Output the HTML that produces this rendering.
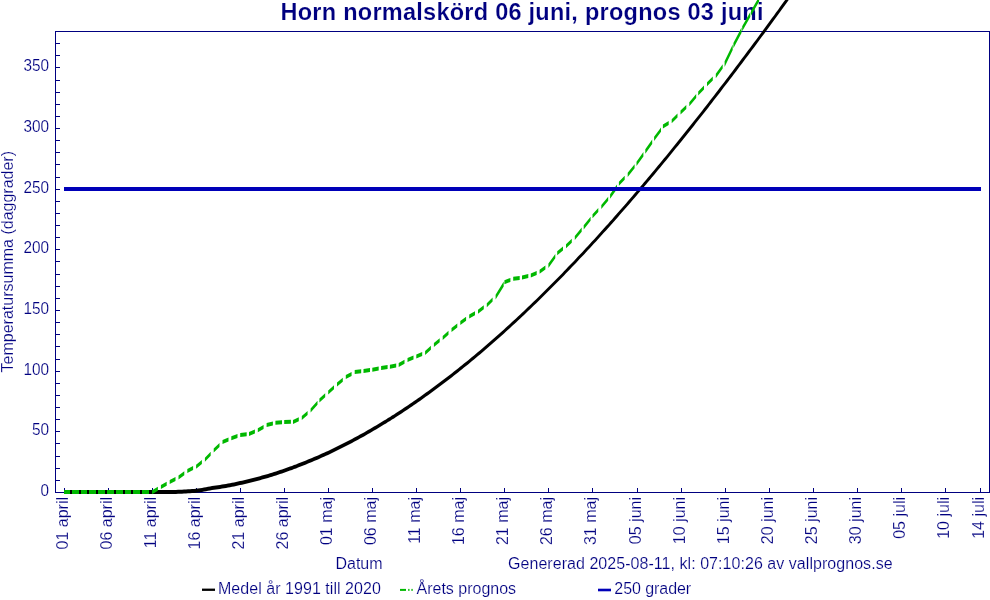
<!DOCTYPE html>
<html lang="sv"><head><meta charset="utf-8"><title>Horn normalskörd 06 juni, prognos 03 juni</title>
<style>html,body{margin:0;padding:0;background:#fff;}svg{display:block;}text{font-family:"Liberation Sans", Arial, sans-serif;fill:#000080;stroke:#fff;stroke-width:0.18px;}</style>
</head><body>
<svg width="990" height="600" viewBox="0 0 990 600">
<rect x="0" y="0" width="990" height="600" fill="#ffffff"/>
<text id="title" x="280.5" y="20" textLength="483" lengthAdjust="spacing" font-size="23.5" font-weight="bold" stroke="none">Horn normalskörd 06 juni, prognos 03 juni</text>
<g fill="#000080" shape-rendering="crispEdges">
<rect x="55" y="31" width="935" height="1"/>
<rect x="55" y="492" width="935" height="1"/>
<rect x="55" y="31" width="1" height="462"/>
<rect x="989" y="31" width="1" height="462"/>
<rect x="56" y="492" width="4" height="1"/>
<rect x="56" y="480" width="4" height="1"/>
<rect x="56" y="468" width="4" height="1"/>
<rect x="56" y="456" width="4" height="1"/>
<rect x="56" y="443" width="4" height="1"/>
<rect x="56" y="431" width="4" height="1"/>
<rect x="56" y="419" width="4" height="1"/>
<rect x="56" y="407" width="4" height="1"/>
<rect x="56" y="395" width="4" height="1"/>
<rect x="56" y="383" width="4" height="1"/>
<rect x="56" y="371" width="4" height="1"/>
<rect x="56" y="359" width="4" height="1"/>
<rect x="56" y="346" width="4" height="1"/>
<rect x="56" y="334" width="4" height="1"/>
<rect x="56" y="322" width="4" height="1"/>
<rect x="56" y="310" width="4" height="1"/>
<rect x="56" y="298" width="4" height="1"/>
<rect x="56" y="286" width="4" height="1"/>
<rect x="56" y="274" width="4" height="1"/>
<rect x="56" y="261" width="4" height="1"/>
<rect x="56" y="249" width="4" height="1"/>
<rect x="56" y="237" width="4" height="1"/>
<rect x="56" y="225" width="4" height="1"/>
<rect x="56" y="213" width="4" height="1"/>
<rect x="56" y="201" width="4" height="1"/>
<rect x="56" y="189" width="4" height="1"/>
<rect x="56" y="177" width="4" height="1"/>
<rect x="56" y="164" width="4" height="1"/>
<rect x="56" y="152" width="4" height="1"/>
<rect x="56" y="140" width="4" height="1"/>
<rect x="56" y="128" width="4" height="1"/>
<rect x="56" y="116" width="4" height="1"/>
<rect x="56" y="104" width="4" height="1"/>
<rect x="56" y="92" width="4" height="1"/>
<rect x="56" y="80" width="4" height="1"/>
<rect x="56" y="67" width="4" height="1"/>
<rect x="56" y="55" width="4" height="1"/>
<rect x="56" y="43" width="4" height="1"/>
<rect x="64" y="488" width="1" height="4"/>
<rect x="108" y="488" width="1" height="4"/>
<rect x="152" y="488" width="1" height="4"/>
<rect x="196" y="488" width="1" height="4"/>
<rect x="240" y="488" width="1" height="4"/>
<rect x="284" y="488" width="1" height="4"/>
<rect x="328" y="488" width="1" height="4"/>
<rect x="372" y="488" width="1" height="4"/>
<rect x="416" y="488" width="1" height="4"/>
<rect x="460" y="488" width="1" height="4"/>
<rect x="504" y="488" width="1" height="4"/>
<rect x="548" y="488" width="1" height="4"/>
<rect x="592" y="488" width="1" height="4"/>
<rect x="637" y="488" width="1" height="4"/>
<rect x="681" y="488" width="1" height="4"/>
<rect x="725" y="488" width="1" height="4"/>
<rect x="769" y="488" width="1" height="4"/>
<rect x="813" y="488" width="1" height="4"/>
<rect x="857" y="488" width="1" height="4"/>
<rect x="901" y="488" width="1" height="4"/>
<rect x="945" y="488" width="1" height="4"/>
<rect x="980" y="488" width="1" height="4"/>
</g>
<g font-size="16" text-anchor="end">
<text x="49" y="496.1" textLength="8.5" lengthAdjust="spacingAndGlyphs">0</text>
<text x="49" y="435.1" textLength="17.1" lengthAdjust="spacingAndGlyphs">50</text>
<text x="49" y="375.1" textLength="25.6" lengthAdjust="spacingAndGlyphs">100</text>
<text x="49" y="314.1" textLength="25.6" lengthAdjust="spacingAndGlyphs">150</text>
<text x="49" y="253.1" textLength="25.6" lengthAdjust="spacingAndGlyphs">200</text>
<text x="49" y="193.1" textLength="25.6" lengthAdjust="spacingAndGlyphs">250</text>
<text x="49" y="132.1" textLength="25.6" lengthAdjust="spacingAndGlyphs">300</text>
<text x="49" y="71.1" textLength="25.6" lengthAdjust="spacingAndGlyphs">350</text>
</g>
<g font-size="16" text-anchor="end">
<text transform="translate(68.0,497) rotate(-90)">01 april</text>
<text transform="translate(112.0,497) rotate(-90)">06 april</text>
<text transform="translate(156.0,497) rotate(-90)">11 april</text>
<text transform="translate(200.0,497) rotate(-90)">16 april</text>
<text transform="translate(244.0,497) rotate(-90)">21 april</text>
<text transform="translate(288.0,497) rotate(-90)">26 april</text>
<text transform="translate(332.0,497) rotate(-90)">01 maj</text>
<text transform="translate(376.0,497) rotate(-90)">06 maj</text>
<text transform="translate(420.0,497) rotate(-90)">11 maj</text>
<text transform="translate(464.0,497) rotate(-90)">16 maj</text>
<text transform="translate(508.0,497) rotate(-90)">21 maj</text>
<text transform="translate(552.0,497) rotate(-90)">26 maj</text>
<text transform="translate(596.0,497) rotate(-90)">31 maj</text>
<text transform="translate(641.0,497) rotate(-90)">05 juni</text>
<text transform="translate(685.0,497) rotate(-90)">10 juni</text>
<text transform="translate(729.0,497) rotate(-90)">15 juni</text>
<text transform="translate(773.0,497) rotate(-90)">20 juni</text>
<text transform="translate(817.0,497) rotate(-90)">25 juni</text>
<text transform="translate(861.0,497) rotate(-90)">30 juni</text>
<text transform="translate(905.0,497) rotate(-90)">05 juli</text>
<text transform="translate(949.0,497) rotate(-90)">10 juli</text>
<text transform="translate(984.0,497) rotate(-90)">14 juli</text>
</g>
<text id="ytitle" transform="translate(12.5,261.7) rotate(-90)" text-anchor="middle" font-size="16">Temperatursumma (daggrader)</text>
<polygon fill="#000000" points="64.0,490.0 170.0,490.0 172.0,490.0 174.0,489.9 176.0,489.9 178.0,489.8 180.0,489.7 182.0,489.7 184.0,489.6 186.0,489.5 188.0,489.3 190.0,489.2 192.0,489.0 194.0,488.9 196.0,488.7 198.0,488.4 200.0,488.2 202.0,487.9 204.0,487.6 206.0,487.2 208.0,486.8 210.0,486.4 212.0,486.1 214.0,485.8 216.0,485.6 218.0,485.3 220.0,484.9 222.0,484.6 224.0,484.3 226.0,483.9 228.0,483.6 230.0,483.2 232.0,482.8 234.0,482.4 236.0,482.0 238.0,481.6 240.0,481.1 242.0,480.7 244.0,480.2 246.0,479.8 248.0,479.3 250.0,478.8 252.0,478.3 254.0,477.8 256.0,477.3 258.0,476.7 260.0,476.2 262.0,475.6 264.0,475.1 266.0,474.5 268.0,473.9 270.0,473.3 272.0,472.7 274.0,472.0 276.0,471.4 278.0,470.7 280.0,470.1 282.0,469.4 284.0,468.7 286.0,468.0 288.0,467.3 290.0,466.6 292.0,465.9 294.0,465.1 296.0,464.4 298.0,463.6 300.0,462.8 302.0,462.1 304.0,461.3 306.0,460.5 308.0,459.6 310.0,458.8 312.0,458.0 314.0,457.1 316.0,456.3 318.0,455.4 320.0,454.5 322.0,453.6 324.0,452.7 326.0,451.8 328.0,450.9 330.0,449.9 332.0,449.0 334.0,448.0 336.0,447.0 338.0,446.1 340.0,445.1 342.0,444.1 344.0,443.1 346.0,442.0 348.0,441.0 350.0,440.0 352.0,438.9 354.0,437.8 356.0,436.8 358.0,435.7 360.0,434.6 362.0,433.5 364.0,432.4 366.0,431.2 368.0,430.1 370.0,428.9 372.0,427.8 374.0,426.6 376.0,425.4 378.0,424.2 380.0,423.0 382.0,421.8 384.0,420.6 386.0,419.4 388.0,418.1 390.0,416.9 392.0,415.6 394.0,414.4 396.0,413.1 398.0,411.8 400.0,410.5 402.0,409.2 404.0,407.8 406.0,406.5 408.0,405.2 410.0,403.8 412.0,402.5 414.0,401.1 416.0,399.7 418.0,398.3 420.0,396.9 422.0,395.5 424.0,394.1 426.0,392.6 428.0,391.2 430.0,389.7 432.0,388.3 434.0,386.8 436.0,385.3 438.0,383.8 440.0,382.3 442.0,380.8 444.0,379.3 446.0,377.8 448.0,376.3 450.0,374.7 452.0,373.2 454.0,371.6 456.0,370.0 458.0,368.4 460.0,366.8 462.0,365.2 464.0,363.6 466.0,362.0 468.0,360.4 470.0,358.7 472.0,357.1 474.0,355.4 476.0,353.7 478.0,352.0 480.0,350.4 482.0,348.7 484.0,347.0 486.0,345.2 488.0,343.5 490.0,341.8 492.0,340.0 494.0,338.3 496.0,336.5 498.0,334.7 500.0,333.0 502.0,331.2 504.0,329.4 506.0,327.6 508.0,325.8 510.0,323.9 512.0,322.1 514.0,320.3 516.0,318.4 518.0,316.5 520.0,314.7 522.0,312.8 524.0,310.9 526.0,309.0 528.0,307.1 530.0,305.2 532.0,303.3 534.0,301.3 536.0,299.4 538.0,297.5 540.0,295.5 542.0,293.5 544.0,291.6 546.0,289.6 548.0,287.6 550.0,285.6 552.0,283.6 554.0,281.5 556.0,279.5 558.0,277.5 560.0,275.4 562.0,273.4 564.0,271.3 566.0,269.2 568.0,267.1 570.0,265.1 572.0,263.0 574.0,260.9 576.0,258.7 578.0,256.6 580.0,254.5 582.0,252.4 584.0,250.2 586.0,248.1 588.0,245.9 590.0,243.7 592.0,241.6 594.0,239.4 596.0,237.2 598.0,235.0 600.0,232.8 602.0,230.6 604.0,228.3 606.0,226.1 608.0,223.9 610.0,221.6 612.0,219.4 614.0,217.1 616.0,214.8 618.0,212.6 620.0,210.3 622.0,208.0 624.0,205.7 626.0,203.4 628.0,201.1 630.0,198.8 632.0,196.4 634.0,194.1 636.0,191.8 638.0,189.4 640.0,187.1 642.0,184.7 644.0,182.3 646.0,180.0 648.0,177.6 650.0,175.2 652.0,172.8 654.0,170.4 656.0,168.0 658.0,165.6 660.0,163.2 662.0,160.7 664.0,158.3 666.0,155.9 668.0,153.4 670.0,151.0 672.0,148.5 674.0,146.0 676.0,143.6 678.0,141.1 680.0,138.6 682.0,136.1 684.0,133.6 686.0,131.1 688.0,128.6 690.0,126.1 692.0,123.6 694.0,121.0 696.0,118.5 698.0,116.0 700.0,113.4 702.0,110.9 704.0,108.3 706.0,105.7 708.0,103.2 710.0,100.6 712.0,98.0 714.0,95.4 716.0,92.8 718.0,90.2 720.0,87.6 722.0,85.0 724.0,82.4 726.0,79.8 728.0,77.2 730.0,74.5 732.0,71.9 734.0,69.3 736.0,66.6 738.0,64.0 740.0,61.3 742.0,58.6 744.0,56.0 746.0,53.3 748.0,50.6 750.0,47.9 752.0,45.2 754.0,42.6 756.0,39.9 758.0,37.2 760.0,34.4 762.0,31.7 764.0,29.0 766.0,26.3 768.0,23.6 770.0,20.8 772.0,18.1 774.0,15.4 776.0,12.6 778.0,9.9 780.0,7.1 782.0,4.3 784.0,1.6 786.0,-1.2 788.0,-4.0 790.0,-6.7 792.0,-9.5 794.0,-12.3 794.0,-7.4 792.0,-4.6 790.0,-1.8 788.0,1.0 786.0,3.7 784.0,6.5 782.0,9.3 780.0,12.0 778.0,14.8 776.0,17.5 774.0,20.2 772.0,23.0 770.0,25.7 768.0,28.4 766.0,31.2 764.0,33.9 762.0,36.6 760.0,39.3 758.0,42.0 756.0,44.7 754.0,47.4 752.0,50.1 750.0,52.8 748.0,55.4 746.0,58.1 744.0,60.8 742.0,63.4 740.0,66.1 738.0,68.7 736.0,71.4 734.0,74.0 732.0,76.7 730.0,79.3 728.0,81.9 726.0,84.5 724.0,87.1 722.0,89.8 720.0,92.4 718.0,95.0 716.0,97.5 714.0,100.1 712.0,102.7 710.0,105.3 708.0,107.9 706.0,110.4 704.0,113.0 702.0,115.5 700.0,118.1 698.0,120.6 696.0,123.1 694.0,125.7 692.0,128.2 690.0,130.7 688.0,133.2 686.0,135.7 684.0,138.2 682.0,140.7 680.0,143.2 678.0,145.7 676.0,148.1 674.0,150.6 672.0,153.1 670.0,155.5 668.0,158.0 666.0,160.4 664.0,162.8 662.0,165.3 660.0,167.7 658.0,170.1 656.0,172.5 654.0,174.9 652.0,177.3 650.0,179.7 648.0,182.0 646.0,184.4 644.0,186.8 642.0,189.1 640.0,191.5 638.0,193.8 636.0,196.2 634.0,198.5 632.0,200.8 630.0,203.2 628.0,205.5 626.0,207.8 624.0,210.1 622.0,212.3 620.0,214.6 618.0,216.9 616.0,219.2 614.0,221.4 612.0,223.7 610.0,225.9 608.0,228.2 606.0,230.4 604.0,232.6 602.0,234.8 600.0,237.0 598.0,239.2 596.0,241.4 594.0,243.6 592.0,245.8 590.0,247.9 588.0,250.1 586.0,252.2 584.0,254.4 582.0,256.5 580.0,258.6 578.0,260.8 576.0,262.9 574.0,265.0 572.0,267.1 570.0,269.2 568.0,271.2 566.0,273.3 564.0,275.4 562.0,277.4 560.0,279.5 558.0,281.5 556.0,283.5 554.0,285.6 552.0,287.6 550.0,289.6 548.0,291.6 546.0,293.6 544.0,295.6 542.0,297.5 540.0,299.5 538.0,301.5 536.0,303.4 534.0,305.3 532.0,307.3 530.0,309.2 528.0,311.1 526.0,313.0 524.0,314.9 522.0,316.8 520.0,318.7 518.0,320.5 516.0,322.4 514.0,324.3 512.0,326.1 510.0,327.9 508.0,329.8 506.0,331.6 504.0,333.4 502.0,335.2 500.0,337.0 498.0,338.7 496.0,340.5 494.0,342.3 492.0,344.0 490.0,345.8 488.0,347.5 486.0,349.2 484.0,351.0 482.0,352.7 480.0,354.4 478.0,356.0 476.0,357.7 474.0,359.4 472.0,361.1 470.0,362.7 468.0,364.4 466.0,366.0 464.0,367.6 462.0,369.2 460.0,370.8 458.0,372.4 456.0,374.0 454.0,375.6 452.0,377.2 450.0,378.7 448.0,380.3 446.0,381.8 444.0,383.3 442.0,384.8 440.0,386.3 438.0,387.8 436.0,389.3 434.0,390.8 432.0,392.3 430.0,393.7 428.0,395.2 426.0,396.6 424.0,398.1 422.0,399.5 420.0,400.9 418.0,402.3 416.0,403.7 414.0,405.1 412.0,406.5 410.0,407.8 408.0,409.2 406.0,410.5 404.0,411.8 402.0,413.2 400.0,414.5 398.0,415.8 396.0,417.1 394.0,418.4 392.0,419.6 390.0,420.9 388.0,422.1 386.0,423.4 384.0,424.6 382.0,425.8 380.0,427.0 378.0,428.2 376.0,429.4 374.0,430.6 372.0,431.8 370.0,432.9 368.0,434.1 366.0,435.2 364.0,436.4 362.0,437.5 360.0,438.6 358.0,439.7 356.0,440.8 354.0,441.8 352.0,442.9 350.0,444.0 348.0,445.0 346.0,446.0 344.0,447.1 342.0,448.1 340.0,449.1 338.0,450.1 336.0,451.0 334.0,452.0 332.0,453.0 330.0,453.9 328.0,454.9 326.0,455.8 324.0,456.7 322.0,457.6 320.0,458.5 318.0,459.4 316.0,460.3 314.0,461.1 312.0,462.0 310.0,462.8 308.0,463.6 306.0,464.5 304.0,465.3 302.0,466.1 300.0,466.8 298.0,467.6 296.0,468.4 294.0,469.1 292.0,469.9 290.0,470.6 288.0,471.3 286.0,472.0 284.0,472.7 282.0,473.4 280.0,474.1 278.0,474.7 276.0,475.4 274.0,476.0 272.0,476.7 270.0,477.3 268.0,477.9 266.0,478.5 264.0,479.1 262.0,479.6 260.0,480.2 258.0,480.7 256.0,481.3 254.0,481.8 252.0,482.3 250.0,482.8 248.0,483.3 246.0,483.8 244.0,484.2 242.0,484.7 240.0,485.1 238.0,485.6 236.0,486.0 234.0,486.4 232.0,486.8 230.0,487.2 228.0,487.6 226.0,487.9 224.0,488.3 222.0,488.6 220.0,488.9 218.0,489.3 216.0,489.6 214.0,489.8 212.0,490.1 210.0,490.4 208.0,490.8 206.0,491.2 204.0,491.6 202.0,491.9 200.0,492.2 198.0,492.4 196.0,492.7 194.0,492.9 192.0,493.0 190.0,493.2 188.0,493.3 186.0,493.5 184.0,493.6 182.0,493.7 180.0,493.7 178.0,493.8 176.0,493.9 174.0,493.9 172.0,494.0 170.0,494.0 64.0,494.0"/>
<path fill="#00b800" d="M64.0,490.0 L70.0,490.0 L70.0,494.0 L64.0,494.0Z M72.0,490.0 L79.0,490.0 L79.0,494.0 L72.0,494.0Z M81.0,490.0 L87.0,490.0 L87.0,494.0 L81.0,494.0Z M89.0,490.0 L96.0,490.0 L96.0,494.0 L89.0,494.0Z M98.0,490.0 L105.0,490.0 L105.0,494.0 L98.0,494.0Z M107.0,490.0 L114.0,490.0 L114.0,494.0 L107.0,494.0Z M116.0,490.0 L123.0,490.0 L123.0,494.0 L116.0,494.0Z M125.0,490.0 L131.0,490.0 L131.0,494.0 L125.0,494.0Z M133.0,490.0 L140.0,490.0 L140.0,494.0 L133.0,494.0Z M142.0,490.0 L149.0,490.0 L149.0,494.0 L142.0,494.0Z M152.1,490.3 L157.9,486.8 L157.9,490.8 L152.1,494.3Z M160.9,485.0 L166.7,481.7 L166.7,485.7 L160.9,489.0Z M169.7,480.0 L175.5,476.9 L175.5,480.9 L169.7,484.0Z M178.5,475.4 L184.3,471.3 L184.3,475.3 L178.5,479.4Z M187.3,469.1 L193.1,466.1 L193.1,470.1 L187.3,473.1Z M196.1,464.7 L201.9,460.0 L201.9,464.0 L196.1,468.7Z M204.9,457.7 L210.7,451.7 L210.7,455.7 L204.9,461.7Z M213.7,448.5 L219.5,443.0 L219.5,447.0 L213.7,452.5Z M222.5,439.9 L228.5,437.4 L228.5,441.4 L222.5,443.9Z M231.3,436.2 L237.5,434.1 L237.5,438.1 L231.3,440.2Z M240.2,433.1 L246.7,432.2 L246.7,436.2 L240.2,437.1Z M249.0,432.0 L254.9,429.5 L254.9,433.5 L249.0,436.0Z M257.8,428.3 L263.6,425.0 L263.6,429.0 L257.8,432.3Z M266.6,423.1 L272.9,421.6 L272.9,425.6 L266.6,427.1Z M275.4,420.8 L282.0,420.2 L282.0,424.2 L275.4,424.8Z M284.2,420.0 L290.9,419.8 L290.9,423.8 L284.2,424.0Z M293.0,419.9 L298.8,417.2 L298.8,421.2 L293.0,423.9Z M301.8,415.9 L307.6,411.0 L307.6,415.0 L301.8,419.9Z M310.6,408.6 L317.5,400.7 L317.5,404.7 L310.6,412.6Z M319.4,398.5 L325.2,393.2 L325.2,397.2 L319.4,402.5Z M328.2,390.4 L334.0,385.3 L334.0,389.3 L328.2,394.4Z M337.0,382.6 L342.8,377.7 L342.8,381.7 L337.0,386.6Z M345.8,375.0 L351.6,371.9 L351.6,375.9 L345.8,379.0Z M354.7,370.1 L361.2,369.2 L361.2,373.2 L354.7,374.1Z M363.5,368.9 L370.0,368.0 L370.0,372.0 L363.5,372.9Z M372.3,367.8 L378.7,366.6 L378.7,370.6 L372.3,371.8Z M381.1,366.1 L387.6,365.1 L387.6,369.1 L381.1,370.1Z M389.9,364.8 L396.2,363.4 L396.2,367.4 L389.9,368.8Z M398.7,363.0 L404.5,359.7 L404.5,363.7 L398.7,367.0Z M407.5,357.9 L413.5,355.6 L413.5,359.6 L407.5,361.9Z M416.3,354.5 L422.2,352.0 L422.2,356.0 L416.3,358.5Z M425.1,350.9 L430.9,345.7 L430.9,349.7 L425.1,354.9Z M433.9,343.0 L439.7,338.3 L439.7,342.3 L433.9,347.0Z M442.7,335.9 L448.5,330.8 L448.5,334.8 L442.7,339.9Z M451.5,328.1 L457.3,323.4 L457.3,327.4 L451.5,332.1Z M460.3,320.9 L466.1,316.8 L466.1,320.8 L460.3,324.9Z M469.2,314.6 L475.0,311.3 L475.0,315.3 L469.2,318.6Z M478.0,309.7 L483.8,305.3 L483.8,309.3 L478.0,313.7Z M486.8,303.2 L492.6,297.6 L492.6,301.6 L486.8,307.2Z M495.6,294.7 L503.7,281.6 L503.7,286.4 L495.6,299.5Z M504.4,280.2 L510.4,277.9 L510.4,281.9 L504.4,284.2Z M513.2,276.8 L519.7,275.9 L519.7,279.9 L513.2,280.8Z M522.0,275.6 L528.3,274.1 L528.3,278.1 L522.0,279.6Z M530.8,273.5 L536.7,270.9 L536.7,274.9 L530.8,277.5Z M539.6,269.7 L545.4,265.5 L545.4,269.5 L539.6,273.7Z M548.4,263.5 L555.3,254.0 L555.3,258.3 L548.4,267.9Z M557.2,251.2 L563.0,246.6 L563.0,250.6 L557.2,255.2Z M566.0,244.3 L571.8,238.8 L571.8,242.8 L566.0,248.3Z M574.8,236.1 L581.7,227.6 L581.7,231.7 L574.8,240.1Z M583.7,225.3 L590.6,216.7 L590.6,220.8 L583.7,229.4Z M592.5,214.3 L598.3,208.1 L598.3,212.1 L592.5,218.3Z M601.3,204.9 L608.2,196.7 L608.2,200.7 L601.3,208.9Z M610.1,194.3 L617.0,184.5 L617.0,188.9 L610.1,198.7Z M618.9,181.8 L624.7,175.8 L624.7,179.8 L618.9,185.8Z M627.7,172.8 L634.6,164.2 L634.6,168.3 L627.7,176.9Z M636.5,161.7 L643.4,152.0 L643.4,156.4 L636.5,166.1Z M645.3,149.3 L652.2,139.5 L652.2,143.9 L645.3,153.7Z M654.1,136.8 L661.0,127.4 L661.0,131.7 L654.1,141.1Z M662.9,124.6 L668.7,121.0 L668.7,125.0 L662.9,128.6Z M671.7,119.3 L677.5,113.5 L677.5,117.5 L671.7,123.3Z M680.5,110.5 L686.3,105.0 L686.3,109.0 L680.5,114.5Z M689.3,102.3 L696.2,93.9 L696.2,97.9 L689.3,106.3Z M698.2,91.5 L704.0,85.4 L704.0,89.4 L698.2,95.5Z M707.0,82.2 L712.8,76.6 L712.8,80.6 L707.0,86.2Z M715.8,73.8 L722.7,64.2 L722.7,68.5 L715.8,78.2Z M724.6,61.2 L732.7,44.4 L732.7,50.0 L724.6,66.9Z M733.4,43.0 L741.5,27.5 L741.5,32.9 L733.4,48.3Z M742.2,26.2 L750.3,11.9 L750.3,17.0 L742.2,31.3Z M751.0,10.7 L759.1,-3.4 L759.1,1.6 L751.0,15.7Z"/>
<rect x="64" y="187" width="917" height="4" fill="#0000b8"/>
<text id="datum" x="359" y="569" text-anchor="middle" font-size="16">Datum</text>
<text id="gen" x="508" y="569" textLength="384.6" lengthAdjust="spacing" font-size="16">Genererad 2025-08-11, kl: 07:10:26 av vallprognos.se</text>
<rect x="202" y="588.6" width="13" height="2.3" fill="#000000"/>
<text id="l1" x="218" y="594.2" textLength="162.8" lengthAdjust="spacing" font-size="16">Medel år 1991 till 2020</text>
<rect x="400" y="588.9" width="6" height="2" fill="#00b800"/><rect x="408.2" y="588.9" width="1.3" height="2" fill="#00b800"/><rect x="411.4" y="588.9" width="1.3" height="2" fill="#00b800"/>
<text id="l2" x="416.5" y="594.2" font-size="16">Årets prognos</text>
<rect x="598" y="588.7" width="13" height="2.6" fill="#0000b8"/>
<text id="l3" x="614.3" y="594.2" textLength="76.9" lengthAdjust="spacing" font-size="16">250 grader</text>
</svg>
</body></html>
